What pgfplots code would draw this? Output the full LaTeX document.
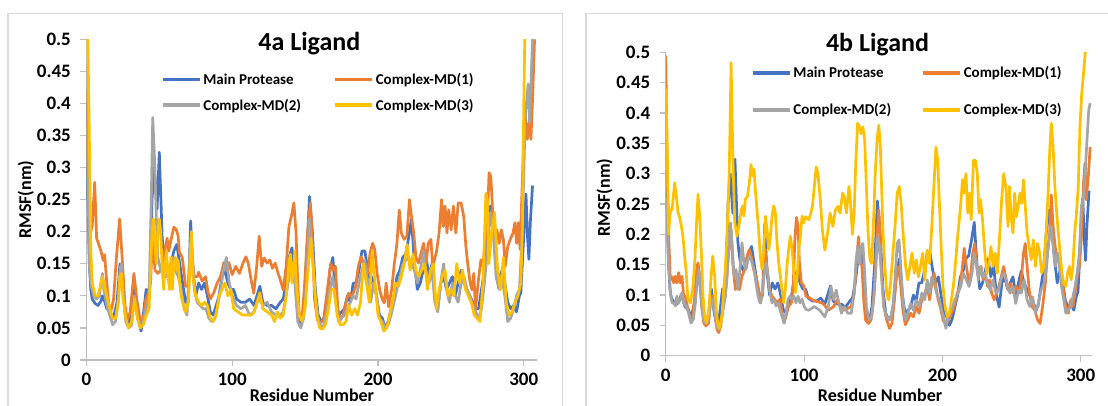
\documentclass[border=0pt]{standalone}
\usepackage{pgfplots}
\usepackage{pgfplotstable}
\pgfplotsset{compat=1.18}
\usepackage{fontspec}
\setmainfont{Carlito}
\definecolor{cblue}{HTML}{4472C4}
\definecolor{corange}{HTML}{ED7D31}
\definecolor{cgray}{HTML}{A5A5A5}
\definecolor{cyellow}{HTML}{FFC000}
\definecolor{axgray}{HTML}{BFBFBF}
\definecolor{framegray}{HTML}{D9D9D9}

\pgfplotstableread[row sep=\\]{x y\\
0 0.40\\ 1 0.25\\ 2 0.15\\ 3 0.11\\ 4 0.095\\ 6 0.088\\ 8 0.085\\ 10 0.092\\ 11 0.10\\ 12 0.095\\ 14 0.08\\ 16 0.078\\ 18 0.065\\ 19 0.07\\ 21 0.09\\ 23 0.15\\ 25 0.11\\ 27 0.065\\ 29 0.055\\ 31 0.07\\ 33 0.11\\ 35 0.07\\ 37.5 0.045\\ 39 0.07\\ 41 0.11\\ 43 0.105\\ 44 0.15\\ 45 0.25\\ 46.5 0.30\\ 48.5 0.235\\ 50 0.324\\ 52 0.19\\ 53 0.168\\ 54 0.152\\ 56 0.14\\ 58 0.15\\ 60 0.17\\ 62 0.18\\ 64 0.15\\ 66 0.12\\ 68 0.09\\ 70 0.10\\ 71.5 0.217\\ 73 0.14\\ 75 0.10\\ 77 0.12\\ 79 0.11\\ 81 0.12\\ 83 0.10\\ 85 0.075\\ 87 0.07\\ 89 0.085\\ 91 0.10\\ 93 0.13\\ 95 0.14\\ 97 0.12\\ 99 0.11\\ 101 0.11\\ 103 0.095\\ 106 0.09\\ 109 0.09\\ 112 0.095\\ 115 0.085\\ 117 0.10\\ 119 0.115\\ 121 0.09\\ 124 0.085\\ 127 0.085\\ 130 0.08\\ 133 0.09\\ 135 0.095\\ 137 0.12\\ 139 0.16\\ 141 0.175\\ 143 0.13\\ 145 0.07\\ 147 0.055\\ 149 0.08\\ 151 0.15\\ 153 0.255\\ 155 0.20\\ 157 0.11\\ 159 0.07\\ 161 0.06\\ 163 0.065\\ 165 0.09\\ 167 0.14\\ 169 0.16\\ 171 0.10\\ 173 0.07\\ 175 0.075\\ 177 0.08\\ 179 0.10\\ 181 0.09\\ 183 0.12\\ 185 0.12\\ 187 0.14\\ 189 0.17\\ 191 0.17\\ 193 0.14\\ 195 0.12\\ 197 0.13\\ 199 0.10\\ 201 0.07\\ 203 0.065\\ 205 0.05\\ 207 0.06\\ 209 0.08\\ 211 0.10\\ 213 0.13\\ 215 0.14\\ 217 0.16\\ 219 0.165\\ 221 0.19\\ 223 0.22\\ 225 0.15\\ 227 0.11\\ 229 0.12\\ 231 0.14\\ 233 0.16\\ 235 0.13\\ 237 0.15\\ 239 0.10\\ 241 0.08\\ 243 0.12\\ 245 0.13\\ 247 0.11\\ 249 0.12\\ 251 0.13\\ 253 0.10\\ 255 0.12\\ 257 0.14\\ 259 0.12\\ 261 0.11\\ 263 0.10\\ 265 0.09\\ 267 0.08\\ 269 0.08\\ 271 0.11\\ 273 0.14\\ 275 0.20\\ 277 0.24\\ 279 0.22\\ 281 0.16\\ 283 0.12\\ 285 0.14\\ 287 0.12\\ 289 0.09\\ 291 0.08\\ 293 0.085\\ 295 0.075\\ 297 0.10\\ 298 0.105\\ 299.5 0.173\\ 301.5 0.259\\ 302.5 0.194\\ 303.5 0.157\\ 304.5 0.215\\ 306 0.272\\
}\bluedata

\pgfplotstableread[row sep=\\]{x y\\
0 0.42\\ 1 0.32\\ 2 0.22\\ 3 0.20\\ 4 0.21\\ 5.7 0.277\\ 7 0.19\\ 8.5 0.18\\ 10 0.17\\ 11.5 0.155\\ 12.5 0.164\\ 14 0.12\\ 15.5 0.085\\ 16.7 0.075\\ 18.6 0.094\\ 20.6 0.16\\ 22.8 0.22\\ 24.5 0.16\\ 26.5 0.085\\ 28.2 0.0625\\ 30 0.075\\ 32.6 0.135\\ 34.6 0.094\\ 36.8 0.0625\\ 38.8 0.06\\ 40.7 0.094\\ 42.4 0.104\\ 44 0.12\\ 45.5 0.2\\ 47 0.14\\ 49 0.135\\ 51 0.14\\ 52 0.14\\ 54 0.173\\ 55.4 0.19\\ 56.5 0.17\\ 58.3 0.19\\ 60 0.207\\ 61.5 0.204\\ 62.9 0.194\\ 63.8 0.168\\ 65.7 0.16\\ 66.8 0.14\\ 68 0.115\\ 70 0.115\\ 71.4 0.17\\ 72.5 0.16\\ 74 0.13\\ 76 0.13\\ 77 0.137\\ 79.4 0.123\\ 81.7 0.13\\ 83.5 0.105\\ 85 0.095\\ 87.4 0.105\\ 89.7 0.12\\ 92 0.13\\ 94.3 0.152\\ 95.4 0.14\\ 97.7 0.152\\ 100 0.133\\ 102.5 0.146\\ 105 0.135\\ 107.4 0.151\\ 109.4 0.161\\ 111 0.151\\ 113 0.125\\ 114.8 0.104\\ 116.8 0.146\\ 118.5 0.193\\ 120.2 0.146\\ 122 0.159\\ 124 0.151\\ 125.8 0.156\\ 127.6 0.143\\ 129.5 0.151\\ 131.5 0.135\\ 133 0.125\\ 135 0.109\\ 137 0.146\\ 138.9 0.208\\ 140.6 0.224\\ 142.3 0.245\\ 143.8 0.198\\ 144.8 0.13\\ 146.2 0.0625\\ 148 0.068\\ 149.6 0.115\\ 151.6 0.198\\ 153.6 0.245\\ 154.6 0.208\\ 156.5 0.094\\ 158.5 0.0625\\ 160 0.057\\ 162.6 0.0625\\ 165 0.104\\ 167.6 0.151\\ 169.3 0.14\\ 170.8 0.146\\ 172.5 0.078\\ 174.2 0.0625\\ 176 0.07\\ 178 0.089\\ 179.8 0.104\\ 182.3 0.099\\ 184.7 0.115\\ 186.5 0.146\\ 188.4 0.161\\ 190.9 0.146\\ 192.9 0.135\\ 194.6 0.167\\ 196.3 0.182\\ 197.8 0.172\\ 199.4 0.135\\ 201.2 0.109\\ 203 0.094\\ 204.3 0.089\\ 205.6 0.12\\ 207.3 0.083\\ 209.3 0.109\\ 211 0.146\\ 213 0.182\\ 214.6 0.234\\ 216 0.198\\ 217.9 0.188\\ 219.8 0.193\\ 221.6 0.25\\ 222.7 0.229\\ 224.5 0.198\\ 226 0.161\\ 227.7 0.151\\ 229.6 0.167\\ 231.3 0.182\\ 233 0.151\\ 234.5 0.182\\ 236.3 0.188\\ 237.5 0.146\\ 240 0.167\\ 241.9 0.198\\ 243.6 0.25\\ 244.8 0.208\\ 246 0.24\\ 247.3 0.198\\ 248.5 0.234\\ 250.2 0.203\\ 251.7 0.24\\ 253.4 0.198\\ 255 0.245\\ 257 0.245\\ 258.8 0.224\\ 260.3 0.177\\ 261.5 0.151\\ 263.2 0.12\\ 264.5 0.109\\ 265.7 0.135\\ 266.9 0.078\\ 268.9 0.125\\ 270.6 0.156\\ 271.8 0.146\\ 273.5 0.182\\ 275 0.219\\ 276.2 0.292\\ 277.4 0.286\\ 278.7 0.229\\ 280.4 0.198\\ 281.6 0.203\\ 283.1 0.182\\ 284.6 0.203\\ 286 0.188\\ 287.3 0.146\\ 289 0.177\\ 290.7 0.188\\ 292.6 0.198\\ 293.9 0.214\\ 295.1 0.182\\ 296.3 0.214\\ 297.5 0.172\\ 299.3 0.30\\ 300.7 0.39\\ 302.4 0.344\\ 303.6 0.37\\ 304.9 0.344\\ 306 0.406\\ 307.4 0.5\\
}\orangeA

\pgfplotstableread[row sep=\\]{x y\\
0 0.46\\ 1 0.30\\ 2 0.15\\ 3 0.12\\ 5 0.10\\ 7 0.095\\ 9 0.10\\ 10 0.12\\ 11 0.135\\ 12 0.11\\ 14 0.085\\ 16 0.07\\ 18 0.055\\ 20 0.06\\ 22 0.10\\ 23 0.14\\ 24 0.15\\ 25 0.11\\ 27 0.06\\ 29 0.05\\ 31 0.055\\ 33 0.10\\ 35 0.065\\ 37 0.05\\ 39 0.06\\ 41 0.08\\ 43 0.10\\ 44.5 0.25\\ 45.5 0.378\\ 47 0.30\\ 48 0.22\\ 49 0.16\\ 51 0.14\\ 53 0.13\\ 55 0.13\\ 57 0.14\\ 59 0.16\\ 61 0.14\\ 63 0.13\\ 65 0.11\\ 67 0.08\\ 69 0.07\\ 71 0.17\\ 72 0.19\\ 74 0.11\\ 76 0.09\\ 78 0.085\\ 80 0.08\\ 82 0.08\\ 84 0.065\\ 86 0.06\\ 88 0.065\\ 90 0.085\\ 92 0.11\\ 94 0.14\\ 96 0.16\\ 98 0.12\\ 100 0.10\\ 103 0.085\\ 106 0.08\\ 109 0.085\\ 112 0.07\\ 115 0.075\\ 117 0.09\\ 119 0.095\\ 121 0.085\\ 124 0.09\\ 127 0.075\\ 130 0.07\\ 133 0.07\\ 135 0.075\\ 137 0.10\\ 139 0.13\\ 141 0.14\\ 143 0.12\\ 145 0.06\\ 147 0.05\\ 149 0.065\\ 151 0.12\\ 153 0.22\\ 155 0.17\\ 157 0.10\\ 159 0.065\\ 161 0.05\\ 163 0.055\\ 165 0.075\\ 167 0.11\\ 169 0.13\\ 171 0.09\\ 173 0.06\\ 175 0.065\\ 177 0.07\\ 179 0.08\\ 181 0.09\\ 183 0.10\\ 185 0.095\\ 187 0.12\\ 189 0.14\\ 191 0.155\\ 193 0.12\\ 195 0.09\\ 197 0.12\\ 199 0.10\\ 201 0.065\\ 203 0.06\\ 205 0.05\\ 207 0.055\\ 209 0.07\\ 211 0.09\\ 213 0.11\\ 215 0.13\\ 217 0.15\\ 219 0.155\\ 221 0.16\\ 223 0.15\\ 225 0.14\\ 227 0.12\\ 229 0.14\\ 231 0.17\\ 233 0.14\\ 235 0.12\\ 237 0.14\\ 239 0.09\\ 241 0.075\\ 243 0.12\\ 245 0.15\\ 247 0.11\\ 249 0.09\\ 251 0.12\\ 253 0.10\\ 255 0.09\\ 257 0.12\\ 259 0.13\\ 261 0.11\\ 263 0.10\\ 265 0.085\\ 267 0.075\\ 269 0.065\\ 271 0.08\\ 273 0.12\\ 275 0.17\\ 277 0.23\\ 279 0.20\\ 281 0.13\\ 283 0.11\\ 285 0.13\\ 287 0.10\\ 289 0.06\\ 291 0.065\\ 293 0.08\\ 295 0.10\\ 297 0.11\\ 299 0.20\\ 301 0.38\\ 303 0.43\\ 304 0.37\\ 306 0.50\\ 307 0.55\\
}\grayA

\pgfplotstableread[row sep=\\]{x y\\
0 0.55\\ 1 0.50\\ 2 0.35\\ 3 0.17\\ 4 0.12\\ 6 0.10\\ 8 0.10\\ 10 0.12\\ 11 0.13\\ 12 0.12\\ 14 0.10\\ 16 0.08\\ 18 0.065\\ 20 0.065\\ 22 0.09\\ 23 0.13\\ 24 0.135\\ 25 0.10\\ 27 0.065\\ 29 0.05\\ 31 0.06\\ 33 0.095\\ 35 0.065\\ 37 0.05\\ 39 0.055\\ 41 0.07\\ 43 0.08\\ 45 0.20\\ 46 0.22\\ 47 0.18\\ 48 0.15\\ 49 0.20\\ 50 0.22\\ 51 0.20\\ 52 0.14\\ 53 0.11\\ 54 0.15\\ 55 0.17\\ 56 0.13\\ 57 0.11\\ 58 0.16\\ 59 0.11\\ 60 0.15\\ 61 0.16\\ 62 0.14\\ 63 0.155\\ 64 0.12\\ 65 0.10\\ 66 0.09\\ 68 0.075\\ 70 0.09\\ 71 0.15\\ 72 0.20\\ 73 0.13\\ 75 0.10\\ 77 0.09\\ 79 0.085\\ 81 0.09\\ 83 0.085\\ 85 0.065\\ 87 0.06\\ 89 0.07\\ 91 0.10\\ 93 0.11\\ 95 0.12\\ 97 0.10\\ 99 0.11\\ 101 0.08\\ 104 0.075\\ 107 0.07\\ 110 0.07\\ 113 0.07\\ 115 0.075\\ 117 0.09\\ 119 0.105\\ 121 0.08\\ 124 0.075\\ 127 0.07\\ 129 0.06\\ 131 0.075\\ 133 0.065\\ 135 0.07\\ 137 0.10\\ 139 0.155\\ 140 0.165\\ 141 0.12\\ 142 0.14\\ 143 0.17\\ 144 0.12\\ 146 0.07\\ 148 0.06\\ 150 0.08\\ 152 0.14\\ 154 0.19\\ 156 0.13\\ 158 0.07\\ 160 0.05\\ 162 0.048\\ 164 0.055\\ 166 0.08\\ 168 0.11\\ 170 0.11\\ 172 0.07\\ 174 0.055\\ 176 0.055\\ 178 0.06\\ 180 0.085\\ 182 0.07\\ 184 0.08\\ 186 0.07\\ 188 0.09\\ 190 0.15\\ 192 0.12\\ 194 0.09\\ 196 0.17\\ 198 0.12\\ 200 0.07\\ 202 0.06\\ 204 0.045\\ 206 0.05\\ 208 0.07\\ 210 0.09\\ 212 0.12\\ 214 0.115\\ 216 0.13\\ 218 0.15\\ 220 0.18\\ 222 0.14\\ 224 0.165\\ 226 0.14\\ 228 0.13\\ 230 0.14\\ 232 0.15\\ 234 0.11\\ 236 0.14\\ 238 0.15\\ 240 0.08\\ 242 0.11\\ 244 0.13\\ 246 0.14\\ 248 0.10\\ 250 0.11\\ 252 0.10\\ 254 0.15\\ 256 0.12\\ 258 0.14\\ 260 0.11\\ 262 0.10\\ 264 0.09\\ 266 0.07\\ 268 0.065\\ 270 0.06\\ 272 0.12\\ 274 0.26\\ 275 0.25\\ 276 0.15\\ 278 0.20\\ 280 0.23\\ 282 0.14\\ 284 0.11\\ 286 0.16\\ 288 0.09\\ 290 0.07\\ 292 0.075\\ 294 0.09\\ 296 0.10\\ 298 0.12\\ 299 0.20\\ 300 0.40\\ 301 0.55\\
}\yellowA

\pgfplotstableread[row sep=\\]{x y\\
0 0.495\\ 1 0.30\\ 2 0.20\\ 3.3 0.125\\ 4.5 0.13\\ 5.7 0.12\\ 6.9 0.131\\ 8 0.12\\ 9.3 0.137\\ 10.5 0.12\\ 11.7 0.131\\ 12.9 0.098\\ 14.1 0.098\\ 16 0.076\\ 17.7 0.06\\ 19.4 0.065\\ 20.9 0.098\\ 22.3 0.142\\ 23.3 0.153\\ 24.5 0.131\\ 25.7 0.087\\ 27.4 0.054\\ 29 0.049\\ 31 0.054\\ 32.4 0.093\\ 33.9 0.098\\ 35.3 0.071\\ 37 0.043\\ 38.2 0.038\\ 39.7 0.049\\ 41.1 0.076\\ 43 0.098\\ 44.5 0.142\\ 45.9 0.186\\ 47.2 0.208\\ 48.4 0.153\\ 50.3 0.109\\ 51.7 0.12\\ 53.2 0.109\\ 55.1 0.131\\ 57 0.142\\ 58.7 0.164\\ 60.4 0.175\\ 61.8 0.164\\ 63.5 0.142\\ 65.2 0.131\\ 67.1 0.109\\ 68.6 0.087\\ 70 0.109\\ 72 0.175\\ 73.4 0.142\\ 74.9 0.109\\ 76.8 0.098\\ 78.7 0.093\\ 80.6 0.087\\ 82.6 0.093\\ 84 0.071\\ 85.5 0.054\\ 86.9 0.065\\ 88.8 0.082\\ 90.8 0.087\\ 92.2 0.12\\ 93.2 0.186\\ 94.4 0.228\\ 95.6 0.214\\ 96.6 0.153\\ 98 0.12\\ 99.7 0.115\\ 101.4 0.098\\ 103 0.097\\ 106 0.092\\ 109.9 0.089\\ 113.7 0.086\\ 117.5 0.075\\ 121.4 0.081\\ 123.9 0.092\\ 126.5 0.081\\ 129 0.075\\ 131.6 0.078\\ 134.1 0.081\\ 136.2 0.103\\ 138 0.158\\ 139.3 0.196\\ 140.6 0.158\\ 141.8 0.147\\ 143.1 0.092\\ 144.4 0.059\\ 146.4 0.053\\ 148.4 0.059\\ 150.2 0.092\\ 151.4 0.136\\ 152.7 0.2\\ 154 0.24\\ 155 0.2\\ 156 0.136\\ 157.6 0.081\\ 159.7 0.059\\ 161.7 0.045\\ 163.5 0.053\\ 165.3 0.092\\ 166.8 0.136\\ 168.3 0.147\\ 169.9 0.114\\ 171.4 0.075\\ 173.2 0.051\\ 174.9 0.059\\ 177 0.07\\ 179 0.064\\ 181.1 0.081\\ 183.1 0.07\\ 185.1 0.092\\ 187.2 0.103\\ 189 0.114\\ 190.7 0.092\\ 192.3 0.119\\ 194 0.136\\ 195.3 0.114\\ 196.9 0.092\\ 198.4 0.081\\ 200.4 0.059\\ 202.4 0.051\\ 204.5 0.059\\ 206.5 0.07\\ 208.6 0.081\\ 210.7 0.103\\ 212.7 0.114\\ 214.5 0.147\\ 215.7 0.177\\ 217.3 0.147\\ 218.8 0.125\\ 220.3 0.13\\ 221.9 0.169\\ 223.4 0.185\\ 224.9 0.147\\ 226.4 0.136\\ 228 0.147\\ 229.5 0.125\\ 231 0.136\\ 232.6 0.114\\ 234.1 0.125\\ 235.6 0.103\\ 237.4 0.092\\ 239.2 0.103\\ 240.7 0.114\\ 242.5 0.13\\ 244.3 0.147\\ 245.8 0.13\\ 247.6 0.108\\ 249.4 0.119\\ 251.4 0.103\\ 253.5 0.114\\ 255.3 0.103\\ 257 0.125\\ 258.6 0.169\\ 259.9 0.185\\ 261.2 0.147\\ 263 0.103\\ 264.7 0.081\\ 266.8 0.075\\ 268.8 0.059\\ 270.6 0.053\\ 272.4 0.081\\ 274.4 0.119\\ 275.9 0.169\\ 277.5 0.2\\ 278.7 0.265\\ 280 0.213\\ 281.5 0.18\\ 283 0.158\\ 284.6 0.169\\ 286.1 0.136\\ 287.7 0.103\\ 289.2 0.081\\ 291 0.07\\ 292.8 0.092\\ 294.3 0.081\\ 295.9 0.103\\ 297.4 0.13\\ 299 0.147\\ 300.4 0.191\\ 302 0.284\\ 303 0.317\\ 304 0.257\\ 305.6 0.3\\ 306.8 0.344\\
}\orangeB

\pgfplotstableread[row sep=\\]{x y\\
0 0.26\\ 1 0.20\\ 2 0.153\\ 3.3 0.104\\ 4.5 0.087\\ 5.7 0.087\\ 6.9 0.082\\ 8 0.098\\ 9.3 0.087\\ 10.5 0.093\\ 11.7 0.104\\ 12.9 0.087\\ 14.6 0.082\\ 16.5 0.071\\ 18.2 0.054\\ 19.9 0.06\\ 21.4 0.087\\ 22.6 0.12\\ 23.8 0.142\\ 25 0.12\\ 26.2 0.076\\ 27.9 0.054\\ 29.5 0.054\\ 31 0.06\\ 32.4 0.087\\ 33.9 0.093\\ 35.3 0.071\\ 36.8 0.049\\ 38.2 0.043\\ 39.7 0.054\\ 41.1 0.071\\ 42.6 0.093\\ 44 0.12\\ 45.5 0.175\\ 46.7 0.219\\ 47.9 0.186\\ 49.3 0.131\\ 50.8 0.142\\ 52.2 0.109\\ 53.6 0.142\\ 55.1 0.186\\ 56.5 0.153\\ 58 0.142\\ 59.4 0.159\\ 60.9 0.164\\ 62.3 0.153\\ 63.8 0.142\\ 65.2 0.12\\ 66.7 0.098\\ 68.1 0.087\\ 69.6 0.098\\ 71 0.131\\ 72.5 0.153\\ 73.9 0.131\\ 75.3 0.104\\ 76.8 0.087\\ 78.2 0.093\\ 79.7 0.082\\ 81.1 0.087\\ 82.6 0.076\\ 84 0.065\\ 85.5 0.054\\ 86.9 0.071\\ 88.4 0.093\\ 89.8 0.098\\ 91.3 0.093\\ 92.7 0.098\\ 94.1 0.087\\ 95.6 0.098\\ 97 0.087\\ 98.5 0.093\\ 99.9 0.082\\ 101.4 0.076\\ 103.5 0.075\\ 107.4 0.081\\ 111.2 0.075\\ 115 0.064\\ 117.5 0.081\\ 119.4 0.114\\ 121.4 0.092\\ 123.2 0.108\\ 125.2 0.086\\ 127 0.07\\ 129 0.081\\ 131.6 0.07\\ 134.1 0.07\\ 136.2 0.103\\ 137.4 0.152\\ 138.7 0.18\\ 140 0.152\\ 141.3 0.18\\ 142.5 0.185\\ 143.8 0.136\\ 145 0.081\\ 146.9 0.059\\ 148.9 0.064\\ 150.7 0.103\\ 151.9 0.147\\ 153.2 0.196\\ 154.5 0.18\\ 155.8 0.136\\ 157.6 0.081\\ 159.7 0.064\\ 162.2 0.059\\ 164.2 0.081\\ 165.7 0.125\\ 167.3 0.185\\ 168.6 0.191\\ 169.9 0.147\\ 171.4 0.092\\ 173.2 0.059\\ 174.9 0.07\\ 177 0.086\\ 179 0.075\\ 181.1 0.092\\ 183.1 0.081\\ 185.1 0.103\\ 187.2 0.092\\ 189 0.125\\ 190.7 0.103\\ 192.3 0.13\\ 194 0.119\\ 195.8 0.103\\ 197.9 0.092\\ 199.4 0.075\\ 200.9 0.064\\ 202.5 0.045\\ 204 0.064\\ 205.6 0.07\\ 207.1 0.081\\ 209.1 0.092\\ 211.2 0.103\\ 213.2 0.114\\ 215.2 0.136\\ 217.3 0.125\\ 219.3 0.114\\ 221.4 0.136\\ 222.9 0.169\\ 224.4 0.152\\ 226 0.125\\ 227.5 0.147\\ 229 0.13\\ 230.5 0.136\\ 232.6 0.119\\ 234.6 0.108\\ 236.6 0.125\\ 238.7 0.103\\ 240.7 0.108\\ 242.8 0.13\\ 244.8 0.136\\ 246.9 0.114\\ 248.9 0.103\\ 251 0.114\\ 253 0.086\\ 255 0.108\\ 257 0.103\\ 259.1 0.125\\ 261.2 0.092\\ 263.2 0.081\\ 265.2 0.097\\ 267.3 0.07\\ 269.3 0.086\\ 271.3 0.108\\ 273.4 0.119\\ 275.4 0.152\\ 277 0.191\\ 278.5 0.213\\ 280 0.18\\ 281.5 0.147\\ 283 0.169\\ 284.6 0.147\\ 286.1 0.114\\ 287.7 0.092\\ 289.2 0.07\\ 291 0.075\\ 292.8 0.081\\ 294.3 0.097\\ 295.9 0.114\\ 297.4 0.136\\ 299 0.169\\ 300.4 0.246\\ 302 0.262\\ 303.2 0.30\\ 304.5 0.355\\ 305.8 0.405\\ 306.8 0.416\\
}\grayB

\pgfplotstableread[row sep=\\]{x y\\
0 0.44\\ 1 0.35\\ 2 0.20\\ 3.3 0.24\\ 4.5 0.24\\ 6.4 0.285\\ 7.6 0.263\\ 8.8 0.236\\ 9.8 0.23\\ 11.2 0.214\\ 12.4 0.197\\ 13.6 0.164\\ 14.6 0.142\\ 16 0.093\\ 17.7 0.087\\ 19.4 0.109\\ 20.9 0.153\\ 22 0.208\\ 23.3 0.266\\ 24.5 0.23\\ 25.7 0.17\\ 26.9 0.098\\ 28.1 0.065\\ 29.3 0.054\\ 31 0.071\\ 32.4 0.12\\ 33.9 0.164\\ 35.3 0.131\\ 36.5 0.076\\ 37.7 0.05\\ 38.8 0.045\\ 40.6 0.065\\ 41.8 0.109\\ 43 0.142\\ 44.5 0.214\\ 45.9 0.307\\ 47.2 0.483\\ 48.4 0.335\\ 49.8 0.22\\ 51.5 0.197\\ 53.2 0.219\\ 54.6 0.241\\ 55.6 0.247\\ 56.5 0.23\\ 57.5 0.258\\ 59 0.263\\ 60.4 0.285\\ 61.6 0.315\\ 62.8 0.296\\ 63.8 0.307\\ 64.7 0.274\\ 65.9 0.241\\ 67.1 0.208\\ 68.3 0.164\\ 69.6 0.142\\ 70.8 0.17\\ 72 0.23\\ 73.2 0.208\\ 74.4 0.175\\ 75.6 0.197\\ 76.8 0.23\\ 78 0.247\\ 79.2 0.236\\ 80.4 0.186\\ 81.6 0.153\\ 82.8 0.131\\ 84 0.109\\ 85.2 0.087\\ 86.4 0.109\\ 87.6 0.148\\ 88.8 0.175\\ 90 0.197\\ 91.3 0.175\\ 92.5 0.142\\ 93.7 0.104\\ 94.9 0.126\\ 96.1 0.175\\ 97.3 0.197\\ 98.5 0.23\\ 99.7 0.219\\ 101 0.229\\ 103.5 0.224\\ 106 0.246\\ 108.7 0.311\\ 110 0.30\\ 111.7 0.257\\ 113.2 0.207\\ 115 0.174\\ 116.8 0.20\\ 118.8 0.235\\ 120.8 0.213\\ 122.6 0.24\\ 124.4 0.246\\ 126 0.235\\ 127.8 0.268\\ 129 0.262\\ 130.6 0.235\\ 132.4 0.279\\ 133.6 0.251\\ 134.9 0.20\\ 136.2 0.235\\ 137.4 0.322\\ 138.7 0.383\\ 140 0.377\\ 141.3 0.366\\ 142.5 0.377\\ 143.8 0.355\\ 145 0.279\\ 146.3 0.20\\ 147.6 0.158\\ 148.9 0.152\\ 150.2 0.224\\ 151.4 0.30\\ 152.7 0.355\\ 154 0.38\\ 155 0.35\\ 156 0.279\\ 157.1 0.20\\ 158.4 0.147\\ 159.7 0.103\\ 161.2 0.092\\ 162.7 0.125\\ 164.2 0.169\\ 165.7 0.213\\ 167.3 0.268\\ 168.8 0.279\\ 170.3 0.246\\ 171.9 0.191\\ 173.4 0.147\\ 174.9 0.125\\ 176.5 0.147\\ 178 0.169\\ 179.6 0.136\\ 181.1 0.158\\ 182.6 0.13\\ 184.1 0.147\\ 185.7 0.169\\ 187.2 0.125\\ 189 0.174\\ 190.7 0.152\\ 192.3 0.213\\ 193.8 0.279\\ 195.3 0.344\\ 196.6 0.322\\ 197.9 0.246\\ 199.1 0.18\\ 200.4 0.114\\ 201.9 0.081\\ 203.5 0.064\\ 205 0.07\\ 206.5 0.092\\ 208.1 0.119\\ 209.6 0.158\\ 211.2 0.202\\ 212.7 0.235\\ 214.5 0.29\\ 215.7 0.268\\ 217 0.30\\ 218.3 0.235\\ 219.6 0.268\\ 220.8 0.224\\ 222.4 0.322\\ 223.9 0.322\\ 225.2 0.30\\ 226.4 0.235\\ 227.5 0.257\\ 229 0.224\\ 230.5 0.174\\ 232.1 0.136\\ 233.6 0.152\\ 235.1 0.18\\ 236.6 0.147\\ 238.2 0.169\\ 239.7 0.136\\ 241.2 0.191\\ 242.8 0.257\\ 244.3 0.30\\ 245.8 0.279\\ 247.4 0.213\\ 248.4 0.279\\ 249.7 0.229\\ 251 0.202\\ 252.2 0.268\\ 253.5 0.229\\ 254.8 0.246\\ 256 0.268\\ 257.3 0.251\\ 258.6 0.29\\ 259.9 0.246\\ 261.2 0.202\\ 262.7 0.18\\ 264.2 0.158\\ 265.7 0.191\\ 267.3 0.147\\ 268.8 0.185\\ 270.3 0.169\\ 271.8 0.136\\ 273.4 0.147\\ 274.9 0.202\\ 276.4 0.268\\ 277.7 0.344\\ 278.7 0.383\\ 280 0.344\\ 281.3 0.279\\ 282.6 0.235\\ 283.8 0.202\\ 285.1 0.169\\ 286.4 0.136\\ 287.7 0.119\\ 289.2 0.114\\ 290.5 0.136\\ 291.8 0.147\\ 293 0.125\\ 294.3 0.147\\ 295.6 0.202\\ 296.9 0.235\\ 298.2 0.279\\ 299.4 0.377\\ 300.7 0.432\\ 302 0.465\\ 303.2 0.498\\ 304 0.55\\
}\yellowB

\pgfplotsset{
  rmsf/.style={
    scale only axis, anchor=south west,
    xmin=0, ymin=0, ymax=0.5,
    axis lines=left, axis line style={-, axgray, line width=1.2pt},
    tick align=outside, major tick length=6pt,
    tick style={axgray, line width=1.2pt},
    xtick={0,100,200,300}, xticklabels={0,100,200,300},
    ytick={0,0.05,0.1,0.15,0.2,0.25,0.3,0.35,0.4,0.45,0.5},
    yticklabels={0,0.05,0.1,0.15,0.2,0.25,0.3,0.35,0.4,0.45,0.5},
    /pgf/number format/assume math mode=true,
    xticklabel style={font=\bfseries\fontsize{19}{19}\selectfont, inner sep=1pt, yshift=-6pt},
    yticklabel style={font=\bfseries\fontsize{19}{19}\selectfont, xshift=-6pt},
    label style={font=\bfseries\fontsize{18}{18}\selectfont, inner sep=1pt},
    xlabel={Residue Number}, ylabel={RMSF(nm)},
    title style={font=\bfseries\fontsize{26}{26}\selectfont, anchor=center},
    every axis plot/.append style={line width=2.7pt, line join=round, no markers},
    legend columns=2, legend cell align=left,
    legend image code/.code={\draw[#1, line width=3.6pt] (0pt,0pt) -- (37pt,0pt);},
  }
}

\begin{document}
\begin{tikzpicture}[x=1pt,y=1pt]
\useasboundingbox (0,0) rectangle (1108,406);
\draw[framegray, line width=1.3pt] (8,-5) -- (8,392.7) -- (562.8,392.7) -- (562.8,-5);
\draw[framegray, line width=1.3pt] (586,-5) -- (586,392.7) -- (1115,392.7);

\begin{axis}[rmsf, at={(86.4pt,46pt)}, width=450.5pt, height=320.7pt, xmax=309,
  title={4a Ligand}, title style={at={(axis description cs:0.495,0.9675)}},
  xlabel style={at={(axis description cs:0.5008,-0.1091)}, anchor=center},
  ylabel style={at={(axis description cs:-0.1347,0.5)}, anchor=center},
  legend style={at={(axis description cs:0.158,0.907)}, anchor=north west, draw=none, fill=none,
    font=\bfseries\fontsize{15}{15}\selectfont, row sep=9pt,
    /tikz/every even column/.append style={column sep=30pt}},
]
\addplot[cblue] table {\bluedata};
\addplot[corange] table {\orangeA};
\addplot[cgray] table {\grayA};
\addplot[cyellow] table {\yellowA};
\legend{Main Protease, Complex-MD(1), Complex-MD(2), Complex-MD(3)}
\end{axis}

\begin{axis}[rmsf, at={(665.8pt,50.3pt)}, width=426pt, height=303.4pt, xmax=308,
  title={4b Ligand}, title style={at={(axis description cs:0.497,1.005)}},
  xlabel style={at={(axis description cs:0.503,-0.1295)}, anchor=center},
  ylabel style={at={(axis description cs:-0.144,0.521)}, anchor=center},
  legend style={at={(axis description cs:0.192,0.966)}, anchor=north west, draw=none, fill=none,
    font=\bfseries\fontsize{15}{15}\selectfont, row sep=20pt,
    /tikz/every even column/.append style={column sep=28pt}},
]
\addplot[cblue] table {\bluedata};
\addplot[corange] table {\orangeB};
\addplot[cgray] table {\grayB};
\addplot[cyellow] table {\yellowB};
\legend{Main Protease, Complex-MD(1), Complex-MD(2), Complex-MD(3)}
\end{axis}
\end{tikzpicture}
\end{document}
